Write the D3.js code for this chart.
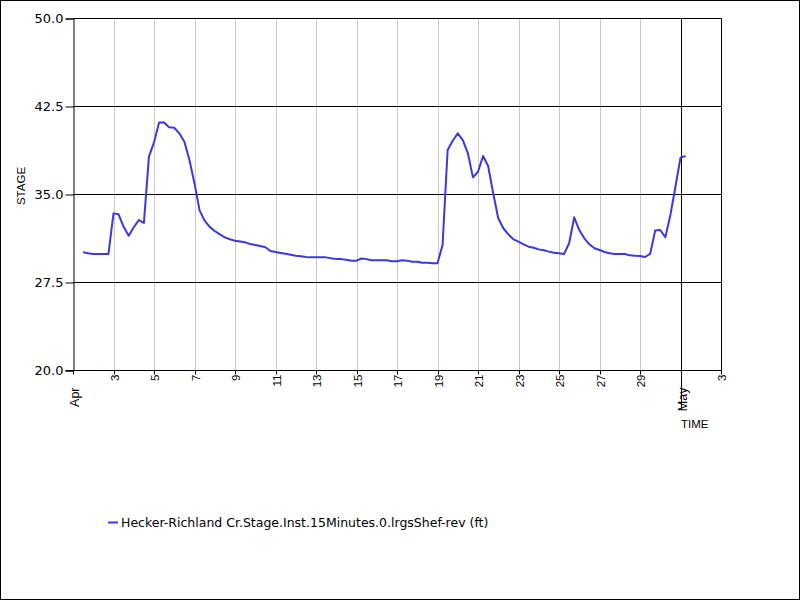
<!DOCTYPE html>
<html>
<head>
<meta charset="utf-8">
<script src="https://cdn.jsdelivr.net/npm/d3@7"></script>
<style>
  body { margin: 0; background: #fff; }
  svg { display: block; }
</style>
</head>
<body>
<div id="chart"></div>
<script>
// Series: six-hourly stage readings starting Apr 1 12:00
const startTime = "2023-04-01T12:00:00";
const stepHours = 6;
const stage = [
  30.03, 29.95, 29.89, 29.89, 29.89, 29.89,
  33.35, 33.27, 32.2, 31.45, 32.17, 32.78, 32.53, 38.18,
  39.4, 41.1, 41.1, 40.68, 40.65, 40.17, 39.46, 37.9,
  35.9, 33.6, 32.73, 32.2, 31.85, 31.56, 31.3, 31.14,
  31.02, 30.95, 30.88, 30.74, 30.65, 30.56, 30.46, 30.14,
  30.06, 29.98, 29.9, 29.82, 29.74, 29.7, 29.64, 29.6,
  29.6, 29.6, 29.6, 29.52, 29.45, 29.45, 29.4, 29.32,
  29.32, 29.5, 29.45, 29.36, 29.36, 29.36, 29.36, 29.27,
  29.27, 29.36, 29.32, 29.23, 29.23, 29.14, 29.14, 29.09,
  29.09, 30.65, 38.75, 39.54, 40.17, 39.6, 38.47, 36.42,
  36.9, 38.24, 37.39, 35.06, 32.93, 32.08, 31.56, 31.14,
  30.94, 30.71, 30.51, 30.42, 30.28, 30.2, 30.09, 30.0,
  29.95, 29.89, 30.8, 33.01, 31.93, 31.22, 30.71, 30.37,
  30.23, 30.06, 29.95, 29.89, 29.89, 29.89, 29.77, 29.74,
  29.72, 29.63, 29.89, 31.88, 31.93, 31.31, 33.21, 35.62,
  38.1, 38.24
];
const yTicks = [20, 27.5, 35, 42.5, 50];
const xDomain = ["2023-04-01T00:00:00", "2023-05-03T00:00:00"];
const seriesName = "Hecker-Richland Cr.Stage.Inst.15Minutes.0.lrgsShef-rev (ft)";

const W = 800, H = 600;
const margin = { left: 73, right: 721, top: 18, bottom: 370 };

const t0 = new Date(startTime);
const data = stage.map((v, i) => ({ t: new Date(t0.getTime() + i * stepHours * 3600e3), v }));

const svg = d3.select("#chart").append("svg")
  .attr("width", W).attr("height", H);

svg.append("rect").attr("x", 0.5).attr("y", 0.5).attr("width", W - 1).attr("height", H - 1)
  .attr("fill", "#fff").attr("stroke", "#000");

const x = d3.scaleTime().domain(xDomain.map(d => new Date(d))).range([margin.left, margin.right]);
const y = d3.scaleLinear().domain([20, 50]).range([margin.bottom, margin.top]);

// Tick dates: odd days of April plus month starts
const days = d3.timeDay.range(new Date(xDomain[0]), d3.timeDay.offset(new Date(xDomain[1]), 1))
  .filter(d => d.getDate() === 1 || d.getDate() % 2 === 1);

// vertical grid
svg.append("g").selectAll("line")
  .data(days.filter(d => d.getDate() !== 1 && +d < +x.domain()[1]))
  .join("line")
  .attr("x1", d => Math.round(x(d)) + 0.5).attr("x2", d => Math.round(x(d)) + 0.5)
  .attr("y1", margin.top).attr("y2", margin.bottom)
  .attr("stroke", "#c8c8c8");

// month line (May)
svg.append("g").selectAll("line")
  .data(days.filter(d => d.getDate() === 1 && d.getMonth() === 4))
  .join("line")
  .attr("x1", d => Math.round(x(d)) + 0.5).attr("x2", d => Math.round(x(d)) + 0.5)
  .attr("y1", margin.top).attr("y2", 410)
  .attr("stroke", "#000");

// horizontal grid
svg.append("g").selectAll("line")
  .data(yTicks.slice(1, -1))
  .join("line")
  .attr("x1", margin.left).attr("x2", margin.right)
  .attr("y1", d => Math.round(y(d)) + 0.5).attr("y2", d => Math.round(y(d)) + 0.5)
  .attr("stroke", "#000");

// frame
svg.append("path")
  .attr("d", `M${margin.left + 0.5},${margin.top + 0.5}H${margin.right + 0.5}V${margin.bottom + 0.5}`)
  .attr("fill", "none").attr("stroke", "#000");

// y axis
const yAxis = d3.axisLeft(y).tickValues(yTicks).tickFormat(d3.format(".1f")).tickSize(8).tickPadding(2);
const gy = svg.append("g").attr("transform", `translate(${margin.left + 0.5},0.5)`).call(yAxis);
gy.select(".domain").attr("stroke", "#000");
gy.selectAll("text").attr("font-family", "DejaVu Sans").attr("font-size", 13).attr("fill", "#000");

// x axis
const gx = svg.append("g").attr("transform", `translate(0.5,${margin.bottom + 0.5})`);
gx.append("line").attr("x1", margin.left - 8).attr("x2", margin.right).attr("stroke", "#000");
gx.selectAll("line.tick").data(days.filter(d => d.getDate() !== 1 || d.getMonth() === 3)).join("line")
  .attr("class", "tick")
  .attr("x1", d => Math.round(x(d))).attr("x2", d => Math.round(x(d)))
  .attr("y1", 0).attr("y2", 4).attr("stroke", "#000");
gx.selectAll("text").data(days).join("text")
  .attr("transform", d => d.getDate() === 1
    ? `translate(${Math.round(x(d)) + 5},17) rotate(-90)`
    : `translate(${Math.round(x(d)) + 4},4) rotate(-90)`)
  .attr("text-anchor", "end")
  .attr("font-family", "Liberation Sans, Arial, sans-serif")
  .attr("font-size", d => d.getDate() === 1 ? 12.5 : 11.5)
  .text(d => d.getDate() === 1 ? d3.timeFormat("%b")(d) : d.getDate());

// axis titles
svg.append("text").attr("transform", `translate(25,186) rotate(-90)`)
  .attr("text-anchor", "middle")
  .attr("font-family", "Liberation Sans, Arial, sans-serif").attr("font-size", 11.5)
  .text("STAGE");
svg.append("text").attr("x", 681).attr("y", 428)
  .attr("font-family", "Liberation Sans, Arial, sans-serif").attr("font-size", 11.5)
  .text("TIME");

// series line
const line = d3.line().x(d => x(d.t)).y(d => y(d.v));
svg.append("path").datum(data)
  .attr("d", line)
  .attr("fill", "none").attr("stroke", "#3a3ae0").attr("stroke-width", 2)
  .attr("stroke-linejoin", "round");

// legend
svg.append("line").attr("x1", 108).attr("x2", 118).attr("y1", 522.5).attr("y2", 522.5)
  .attr("stroke", "#3a3ae0").attr("stroke-width", 2);
svg.append("text").attr("x", 121).attr("y", 527)
  .attr("font-family", "DejaVu Sans").attr("font-size", 12.5)
  .text(seriesName);
</script>
</body>
</html>
